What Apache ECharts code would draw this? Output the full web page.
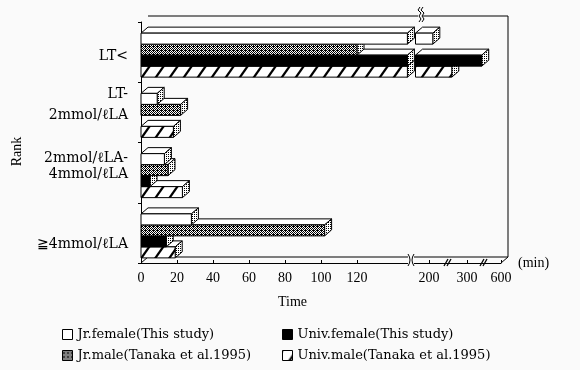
<!DOCTYPE html>
<html><head><meta charset="utf-8">
<script src="https://cdn.jsdelivr.net/npm/echarts@6/dist/echarts.min.js"></script>
<style>html,body{margin:0;padding:0;background:#fafafa;}#c{width:580px;height:370px;}</style>
</head><body><div id="c"></div>
<script>
// ---------------- data ----------------
const categories = ['LT<', 'LT-\n2mmol/ℓLA', '2mmol/ℓLA-\n4mmol/ℓLA', '≧4mmol/ℓLA'];
const seriesNames = ['Jr.female(This study)', 'Univ.female(This study)', 'Jr.male(Tanaka et al.1995)', 'Univ.male(Tanaka et al.1995)'];
const jrFemale   = [210, 9, 13, 28];
const univFemale = [430, 0, 5, 14];
const jrMale     = [120, 22, 15, 102];
const univMale   = [260, 18, 23, 19];
const tickValues = [0, 20, 40, 60, 80, 100, 120, 200, 300, 600];
const breakMarkValues = [250, 450];   // "//" marks on the broken axis
const axisBreakValue = 150;           // main break of the time axis

// ---------------- broken-axis scale (minutes -> axis units) ----------------
function toDisp(v) {
  if (v <= 150) return v;
  if (v <= 200) return 150 + (v - 150) * 0.2;
  if (v <= 300) return 160 + (v - 200) * 0.211;
  return 181.1 + (v - 300) * (18.9 / 300);
}
const tickDisp = tickValues.map(toDisp);

// ---------------- style ----------------
const BG = '#fafafa';
const FONT = 'Liberation Serif';
const FONT2 = 'DejaVu Serif';
const DX = 7, DY = 6, BAR_H = 11, GROUP_SHIFT = 3;
const BREAK_LEFT = 148, BREAK_RIGHT = 152.5;

function makeCanvas(w, h, draw) {
  const c = document.createElement('canvas'); c.width = w; c.height = h;
  const g = c.getContext('2d'); draw(g); return c;
}
const crossPat = {image: makeCanvas(4, 4, g => {
  g.fillStyle = '#fff'; g.fillRect(0, 0, 4, 4); g.fillStyle = '#000';
  for (let x = 0; x < 4; x++) for (let y = 0; y < 4; y++) if ((x + y) % 2 === 0 || (x === 1 && y === 2)) g.fillRect(x, y, 1, 1);
}), repeat: 'repeat'};
const dotPat = {image: makeCanvas(2, 2, g => {
  g.fillStyle = '#fff'; g.fillRect(0, 0, 2, 2); g.fillStyle = '#000'; g.fillRect(0, 0, 1, 1);
}), repeat: 'repeat'};
const hatchPat = {image: makeCanvas(14, 20, g => {
  g.fillStyle = '#fff'; g.fillRect(0, 0, 14, 20); g.strokeStyle = '#000'; g.lineWidth = 2.2;
  [-14, 0, 14].forEach(o => { g.beginPath(); g.moveTo(o, 20); g.lineTo(o + 14, 0); g.stroke(); });
}), repeat: 'repeat'};

function box(x0, x1, yTop, h, fill) {
  if (x1 - x0 < 0.5) return [];
  return [
    {type: 'polygon', shape: {points: [[x0, yTop], [x1, yTop], [x1 + DX, yTop - DY], [x0 + DX, yTop - DY]]}, style: {fill: '#fff', stroke: '#000', lineWidth: 1}},
    {type: 'polygon', shape: {points: [[x1, yTop], [x1 + DX, yTop - DY], [x1 + DX, yTop + h - DY], [x1, yTop + h]]}, style: {fill: dotPat, stroke: '#000', lineWidth: 1}},
    {type: 'rect', shape: {x: x0, y: yTop, width: x1 - x0, height: h}, style: {fill: fill, stroke: '#000', lineWidth: 1}}
  ];
}

function makeSeries(name, values, slot, fill, z) {
  return {
    type: 'custom', name: name, z: z, coordinateSystem: 'cartesian2d',
    data: values.map((v, i) => [toDisp(v), i, v]),
    encode: {x: 0, y: 1},
    itemStyle: {color: fill, borderColor: '#000'},
    renderItem: function (params, api) {
      const d = api.value(0), ci = api.value(1), raw = api.value(2);
      if (!raw) return null;
      const c0 = api.coord([0, ci]);
      const yTop = c0[1] + GROUP_SHIFT - 2 * BAR_H + slot * BAR_H;
      const leftEnd = api.coord([Math.min(d, BREAK_LEFT), ci])[0];
      let children = box(c0[0], leftEnd, yTop, BAR_H, fill);
      if (raw > axisBreakValue) {
        const rs = api.coord([BREAK_RIGHT, ci])[0];
        const re = api.coord([d, ci])[0];
        children = box(rs, re, yTop, BAR_H, fill).concat(children);
      }
      return {type: 'group', children: children};
    }
  };
}

const L = (x1, y1, x2, y2, w) => ({type: 'line', shape: {x1, y1, x2, y2}, style: {stroke: '#000', lineWidth: w || 1}});

const frameSeries = {
  type: 'custom', name: 'frame', z: 1, silent: true, data: [[0, 0]],
  renderItem: function (params, api) {
    const cs = params.coordSys; const x = cs.x, y = cs.y, w = cs.width, h = cs.height;
    return {type: 'group', children: [
      L(x + DX, y - DY, x + w + DX, y - DY),
      L(x + w + DX, y - DY, x + w + DX, y + h - DY),
      L(x + DX, y + h - DY, x + w + DX, y + h - DY),
      L(x, y + h, x + DX, y + h - DY),
      L(x + w, y + h, x + w + DX, y + h - DY)
    ]};
  }
};

const breakSeries = {
  type: 'custom', name: 'breaks', z: 20, silent: true, data: [[0, 0]],
  renderItem: function (params, api) {
    const cs = params.coordSys; const y = cs.y, h = cs.height;
    const xb = api.coord([toDisp(axisBreakValue), 0])[0];
    const yb = y + h;
    const ch = [
      {type: 'rect', shape: {x: xb - 3, y: yb - DY - 2, width: 6, height: DY + 5}, style: {fill: BG}},
      {type: 'bezierCurve', shape: {x1: xb - 3, y1: yb - DY - 3, x2: xb - 3, y2: yb + 3, cpx1: xb + 1, cpy1: yb - DY / 2}, style: {stroke: '#000', fill: null, lineWidth: 1}},
      {type: 'bezierCurve', shape: {x1: xb + 3, y1: yb - DY - 3, x2: xb + 3, y2: yb + 3, cpx1: xb - 1, cpy1: yb - DY / 2}, style: {stroke: '#000', fill: null, lineWidth: 1}},
      {type: 'rect', shape: {x: xb + 7, y: y - DY - 2, width: 5, height: 4}, style: {fill: BG}}
    ];
    const xt = xb + 9, yt = y - DY;
    [0, 3].forEach(o => ch.push({type: 'polyline', shape: {points: [[xt + o, yt - 9], [xt + o - 2, yt - 6], [xt + o + 1, yt - 3], [xt + o - 1, yt], [xt + o + 1, yt + 3], [xt + o - 1, yt + 6]]}, style: {stroke: '#000', fill: null, lineWidth: 1}}));
    breakMarkValues.forEach(v => {
      const xm = api.coord([toDisp(v), 0])[0];
      ch.push(L(xm - 4, yb + 3, xm, yb - 4, 1.3));
      ch.push(L(xm - 1, yb + 3, xm + 3, yb - 4, 1.3));
    });
    return {type: 'group', children: ch};
  }
};

// label placement (rich text styles per category)
const richBase = {fontFamily: FONT2, fontSize: 14, color: '#000'};
const labelRich = {
  c0: Object.assign({padding: [8, 0, 0, 0]}, richBase),
  c1a: Object.assign({}, richBase),
  c1b: Object.assign({padding: [7, 0, 16, 0]}, richBase),
  c2a: Object.assign({}, richBase),
  c2b: Object.assign({padding: [2, 0, 13, 0]}, richBase),
  c3: Object.assign({padding: [22, 0, 0, 0]}, richBase)
};
function labelFormatter(val) {
  const i = categories.indexOf(val);
  const parts = val.split('\n');
  if (i === 0) return '{c0|' + parts[0] + '}';
  if (i === 1) return '{c1a|' + parts[0] + '}\n{c1b|' + parts[1] + '}';
  if (i === 2) return '{c2a|' + parts[0] + '}\n{c2b|' + parts[1] + '}';
  return '{c3|' + parts[0] + '}';
}

const legendIcon = {};
legendIcon[seriesNames[0]] = '#fff';
legendIcon[seriesNames[1]] = '#000';
legendIcon[seriesNames[2]] = crossPat;
legendIcon[seriesNames[3]] = hatchPat;
const legItem = n => ({name: n, icon: 'rect', itemStyle: {color: legendIcon[n], borderColor: '#000', borderWidth: 1}});
const legendText = {fontFamily: FONT2, fontSize: 13, color: '#000'};

const chart = echarts.init(document.getElementById('c'), null, {renderer: 'canvas'});
chart.setOption({
  backgroundColor: BG,
  animation: false,
  title: {text: 'Time', left: 273, top: 290, textStyle: {fontFamily: FONT, fontSize: 14, fontWeight: 'normal', color: '#000'}},
  grid: {left: 141, right: 79, top: 22, bottom: 107},
  xAxis: {
    type: 'value', min: 0, max: 200,
    name: '(min)', nameLocation: 'end', nameGap: 17,
    nameTextStyle: {fontFamily: FONT, fontSize: 14, color: '#000', padding: [38, 0, 0, 0]},
    axisLine: {show: true, lineStyle: {color: '#000', width: 1}},
    axisTick: {show: true, inside: true, length: 3, customValues: tickDisp, lineStyle: {color: '#000'}},
    axisLabel: {
      customValues: tickDisp, margin: 8, fontFamily: FONT, fontSize: 14, color: '#000',
      formatter: function (val) {
        for (let i = 0; i < tickDisp.length; i++) if (Math.abs(tickDisp[i] - val) < 0.01) return String(tickValues[i]);
        return '';
      }
    },
    splitLine: {show: false}
  },
  yAxis: {
    type: 'category', inverse: true,
    data: categories,
    name: 'Rank', nameLocation: 'middle', nameGap: 117, nameRotate: 90,
    nameTextStyle: {fontFamily: FONT, fontSize: 14, color: '#000', padding: [0, 18, 0, 0]},
    axisLine: {show: true, lineStyle: {color: '#000'}},
    axisTick: {show: true, length: 3, lineStyle: {color: '#000'}},
    axisLabel: {margin: 13, align: 'right', formatter: labelFormatter, rich: labelRich},
    splitLine: {show: false}
  },
  legend: [
    {orient: 'vertical', left: 57, top: 323, itemWidth: 10, itemHeight: 10, itemGap: 8, textStyle: legendText, selectedMode: false,
     data: [legItem(seriesNames[0]), legItem(seriesNames[2])]},
    {orient: 'vertical', left: 277, top: 323, itemWidth: 10, itemHeight: 10, itemGap: 8, textStyle: legendText, selectedMode: false,
     data: [legItem(seriesNames[1]), legItem(seriesNames[3])]}
  ],
  series: [
    frameSeries,
    makeSeries(seriesNames[3], univMale, 3, hatchPat, 2),
    makeSeries(seriesNames[1], univFemale, 2, '#000', 3),
    makeSeries(seriesNames[2], jrMale, 1, crossPat, 4),
    makeSeries(seriesNames[0], jrFemale, 0, '#fff', 5),
    breakSeries
  ]
});
</script></body></html>
